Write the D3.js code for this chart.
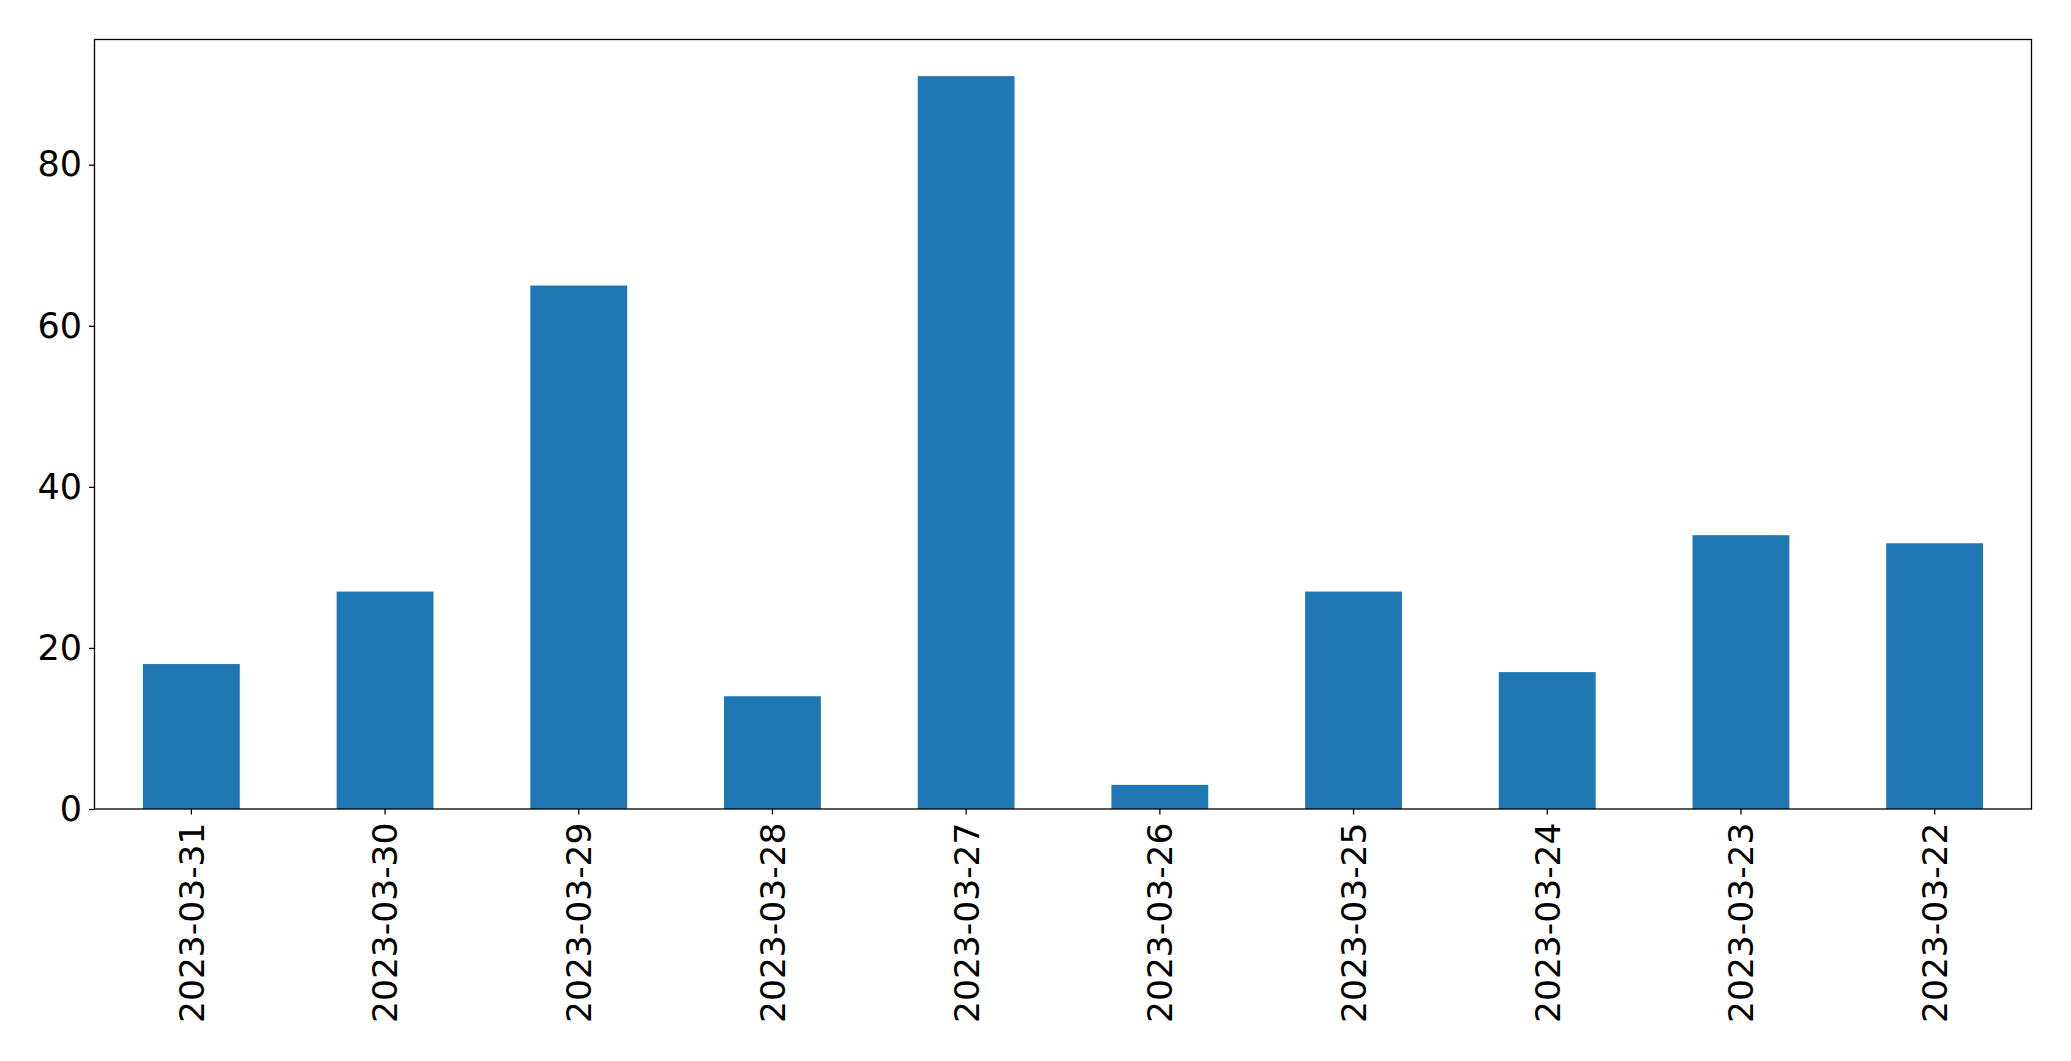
<!DOCTYPE html>
<html>
<head>
<meta charset="utf-8">
<script src="https://cdn.jsdelivr.net/npm/d3@7"></script>
<style>
  html, body { margin: 0; padding: 0; background: #fff; }
  svg { display: block; }
  text { font-family: "DejaVu Sans", sans-serif; fill: #000; }
</style>
</head>
<body>
<svg id="chart" width="2071" height="1061"></svg>
<script>
const categories = ["2023-03-31","2023-03-30","2023-03-29","2023-03-28","2023-03-27","2023-03-26","2023-03-25","2023-03-24","2023-03-23","2023-03-22"];
const values = [18, 27, 65, 14, 91, 3, 27, 17, 34, 33];
const yTicks = [0, 20, 40, 60, 80];

const W = 2071, H = 1061;
const m = { left: 94.5, right: 2031.5, top: 39.5, bottom: 809 };
const svg = d3.select("#chart");

const x = d3.scaleBand().domain(categories).range([m.left, m.right]).paddingInner(0.5).paddingOuter(0.25);
const yMax = d3.max(values) * 1.05;
const y = d3.scaleLinear().domain([0, yMax]).range([m.bottom, m.top]);

svg.append("g").selectAll("rect").data(values).join("rect")
  .attr("x", (d, i) => x(categories[i]))
  .attr("width", x.bandwidth())
  .attr("y", d => y(d))
  .attr("height", d => y(0) - y(d))
  .attr("fill", "#1f77b4");

// Frame
svg.append("rect")
  .attr("x", m.left).attr("y", m.top)
  .attr("width", m.right - m.left).attr("height", m.bottom - m.top)
  .attr("fill", "none").attr("stroke", "#000").attr("stroke-width", 1.3);

// Y axis
const yAxis = d3.axisLeft(y).tickValues(yTicks).tickSize(5.5).tickPadding(7).tickFormat(d3.format("d"));
const gy = svg.append("g").attr("transform", `translate(${m.left},0)`).call(yAxis);
gy.select(".domain").remove();
gy.selectAll(".tick line").attr("stroke", "#000").attr("stroke-width", 1.3);
gy.selectAll(".tick text").attr("font-size", 35).attr("font-family", "DejaVu Sans").attr("fill", "#000");

// X axis
const xAxis = d3.axisBottom(x).tickSize(5.5).tickPadding(0);
const gx = svg.append("g").attr("transform", `translate(0,${m.bottom})`).call(xAxis);
gx.select(".domain").remove();
gx.selectAll(".tick line").attr("stroke", "#000").attr("stroke-width", 1.3);
gx.selectAll(".tick text")
  .attr("font-size", 34.5).attr("font-family", "DejaVu Sans").attr("fill", "#000")
  .attr("text-anchor", "end")
  .attr("transform", "translate(0,13.5) rotate(-90)")
  .attr("x", 0).attr("y", 0).attr("dy", "0.36em");
</script>
</body>
</html>
